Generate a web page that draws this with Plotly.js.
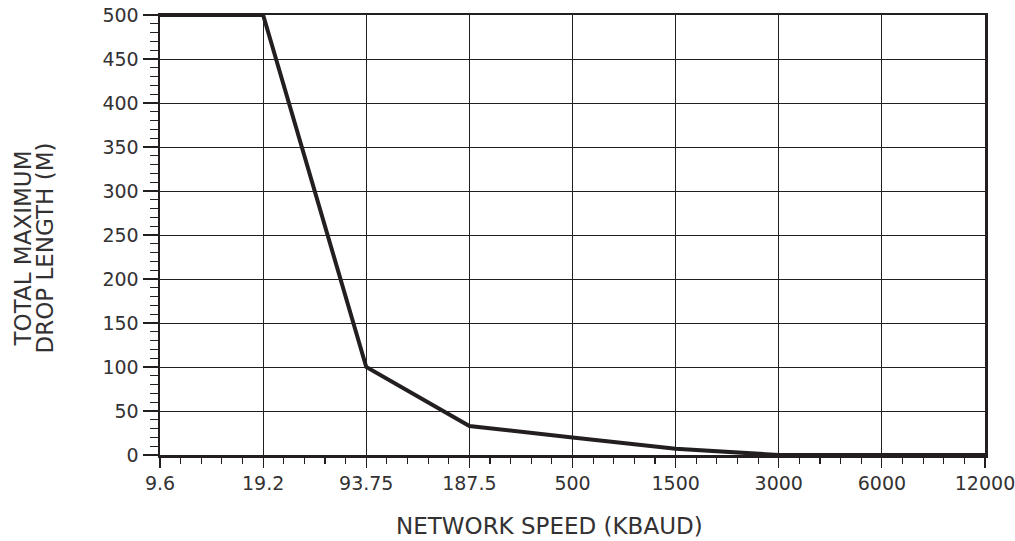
<!DOCTYPE html>
<html><head><meta charset="utf-8">
<script src="https://cdn.plot.ly/plotly-3.0.1.min.js"></script>
<style>body{margin:0;background:#fff}#chart{width:1015px;height:541px}</style>
</head><body><div id="chart"></div>
<script>
const speedLabels = ["9.6","19.2","93.75","187.5","500","1500","3000","6000","12000"];
const dropLength = [500, 500, 100, 33, 20, 7, 0, 0, 0];
const yTicks = [0,50,100,150,200,250,300,350,400,450,500];
const xTitle = "NETWORK SPEED (KBAUD)";
const yTitleLines = ["TOTAL MAXIMUM", "DROP LENGTH (M)"];

const xIdx = speedLabels.map((_, i) => i);
const trace = {
  x: xIdx, y: dropLength, mode: 'lines', type: 'scatter', cliponaxis: false,
  line: {color: '#231f20', width: 4}, hoverinfo: 'skip'
};
const fam = '"DejaVu Sans", Verdana, sans-serif';
const txt = '#333132';
const layout = {
  width: 1015, height: 541,
  margin: {l: 160, r: 30, t: 15, b: 86},
  paper_bgcolor: '#fff', plot_bgcolor: '#fff',
  showlegend: false,
  font: {family: fam, color: txt},
  xaxis: {
    range: [0, 8], tickmode: 'array', tickvals: xIdx, ticktext: speedLabels,
    ticklabeloverflow: 'allow',
    showgrid: true, gridcolor: '#231f20', gridwidth: 1,
    showline: true, linecolor: '#231f20', linewidth: 2.5, mirror: true,
    ticks: 'outside', ticklen: 10, tickwidth: 1.2, tickcolor: '#231f20',
    minor: {dtick: 0.2, tick0: 0, ticks: 'outside', ticklen: 6, tickwidth: 1.2, tickcolor: '#231f20', showgrid: false},
    tickfont: {size: 19, family: fam, color: txt},
    zeroline: false
  },
  yaxis: {
    range: [0, 500], tickmode: 'array', tickvals: yTicks,
    showgrid: true, gridcolor: '#231f20', gridwidth: 1,
    showline: true, linecolor: '#231f20', linewidth: 2.5, mirror: true,
    ticks: 'outside', ticklen: 15, tickwidth: 1.2, tickcolor: '#231f20',
    minor: {dtick: 10, tick0: 0, ticks: 'outside', ticklen: 8, tickwidth: 1.2, tickcolor: '#231f20', showgrid: false},
    tickfont: {size: 19, family: fam, color: txt},
    zeroline: false
  },
  annotations: [
    {text: xTitle, xref: 'paper', yref: 'paper', x: 0.4727, y: -0.1614,
     xanchor: 'center', yanchor: 'middle', showarrow: false,
     font: {size: 23, family: fam, color: txt}},
    {text: yTitleLines[0], xref: 'paper', yref: 'paper', x: -0.1655, y: 0.4705,
     xanchor: 'center', yanchor: 'middle', textangle: -90, showarrow: false,
     font: {size: 23, family: fam, color: txt}},
    {text: yTitleLines[1], xref: 'paper', yref: 'paper', x: -0.14, y: 0.4705,
     xanchor: 'center', yanchor: 'middle', textangle: -90, showarrow: false,
     font: {size: 23, family: fam, color: txt}}
  ]
};
Plotly.newPlot('chart', [trace], layout, {displayModeBar: false, staticPlot: true});
</script></body></html>
